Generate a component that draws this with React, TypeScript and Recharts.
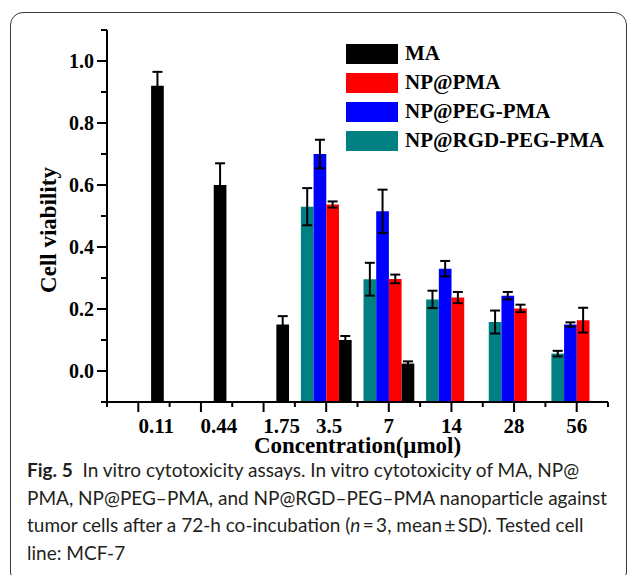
import { BarChart, Bar, XAxis, YAxis, ErrorBar, Legend } from "recharts";

const concentrations = ["0.11", "0.44", "1.75", "3.5", "7", "14", "28", "56"];

const maValues = [0.92, 0.6, 0.15, 0.1, 0.024, null, null, null];
const maErrors = [0.045, 0.07, 0.027, 0.013, 0.007, null, null, null];
const pmaValues = [null, null, null, 0.537, 0.297, 0.237, 0.202, 0.164];
const pmaErrors = [null, null, null, 0.01, 0.014, 0.018, 0.012, 0.04];
const pegValues = [null, null, null, 0.7, 0.515, 0.33, 0.243, 0.15];
const pegErrors = [null, null, null, 0.046, 0.07, 0.025, 0.012, 0.007];
const rgdValues = [null, null, null, 0.53, 0.296, 0.231, 0.158, 0.056];
const rgdErrors = [null, null, null, 0.06, 0.053, 0.028, 0.037, 0.009];

const Y_MIN = -0.1;
const Y_MAX = 1.1;
const yTicks = [-0.1, 0, 0.1, 0.2, 0.3, 0.4, 0.5, 0.6, 0.7, 0.8, 0.9, 1.0, 1.1];

// legend order (top to bottom)
const legendItems = [
  { name: "MA", color: "#000000" },
  { name: "NP@PMA", color: "#ff0000" },
  { name: "NP@PEG-PMA", color: "#0000ff" },
  { name: "NP@RGD-PEG-PMA", color: "#008080" },
];

const data = concentrations.map((c, i) => ({
  conc: c,
  ma: maValues[i],
  maErr: maErrors[i],
  pma: pmaValues[i],
  pmaErr: pmaErrors[i],
  peg: pegValues[i],
  pegErr: pegErrors[i],
  rgd: rgdValues[i],
  rgdErr: rgdErrors[i],
}));

// bars in the original start at the bottom of the axis, not at 0
const fromFloor = (key: string) => (d: any) => (d[key] == null ? null : [Y_MIN, d[key]]);

const W = 630;
const H = 470;
const M = { top: 30, right: 22, left: 7, bottom: 13 };
const Y_AXIS_W = 100;
const X_AXIS_H = 55;
const PLOT_W = W - M.left - M.right - Y_AXIS_W;
const BAND = PLOT_W / concentrations.length;

const SERIF = "'Liberation Serif', 'Times New Roman', serif";

// the first few labels sit to the right of their ticks in the original
const LABEL_SHIFT: Record<string, number> = { "0.11": 18, "0.44": 18, "1.75": 18, "3.5": 3 };

const XTick = (props: any) => {
  const { x, y, payload, index } = props;
  const shift = LABEL_SHIFT[payload.value] ?? 0;
  return (
    <g>
      <line x1={x} y1={y} x2={x} y2={y + 10} stroke="#000" strokeWidth={2} />
      <line x1={x + BAND / 2} y1={y} x2={x + BAND / 2} y2={y + 5} stroke="#000" strokeWidth={2} />
      {index === 0 && (
        <line x1={x - BAND / 2} y1={y} x2={x - BAND / 2} y2={y + 5} stroke="#000" strokeWidth={2} />
      )}
      <text
        x={x + shift}
        y={y + 31}
        textAnchor="middle"
        fontFamily={SERIF}
        fontWeight="bold"
        fontSize={21}
        fill="#000"
      >
        {payload.value}
      </text>
    </g>
  );
};

const YTick = (props: any) => {
  const { x, y, payload } = props;
  const tenth = Math.round(payload.value * 10);
  const major = tenth % 2 === 0;
  return (
    <g>
      <line x1={x - (major ? 10 : 6)} y1={y} x2={x} y2={y} stroke="#000" strokeWidth={2} />
      {major && (
        <text
          x={x - 13}
          y={y}
          dy="0.35em"
          textAnchor="end"
          fontFamily={SERIF}
          fontWeight="bold"
          fontSize={20}
          fill="#000"
        >
          {payload.value.toFixed(1)}
        </text>
      )}
    </g>
  );
};

const renderLegend = () => (
  <div style={{ fontFamily: SERIF, fontWeight: "bold", fontSize: 21, color: "#000" }}>
    {legendItems.map((it) => (
      <div key={it.name} style={{ display: "flex", alignItems: "center", height: 29 }}>
        <span style={{ width: 52, height: 20, background: it.color, display: "inline-block" }} />
        <span style={{ marginLeft: 7, whiteSpace: "nowrap" }}>{it.name}</span>
      </div>
    ))}
  </div>
);

export default function App() {
  return (
    <div style={{ position: "absolute", left: 0, top: 0, width: W, height: 575, overflow: "hidden", background: "#fff" }}>
      <div
        style={{
          position: "absolute",
          left: 10,
          top: 12,
          width: 617,
          height: 573,
          border: "1.5px solid #3a3a3a",
          borderRadius: 13,
          boxSizing: "border-box",
        }}
      />
      <div style={{ position: "absolute", left: 0, top: 0 }}>
        <BarChart width={W} height={H} data={data} margin={M} barGap={0} barSize={12.7}>
          <XAxis
            dataKey="conc"
            height={X_AXIS_H}
            interval={0}
            tickSize={0}
            tickMargin={0}
            tickLine={false}
            tick={<XTick />}
            axisLine={{ stroke: "#000", strokeWidth: 2 }}
            label={{
              value: "Concentration(μmol)",
              position: "insideBottom",
              offset: 4,
              fontFamily: SERIF,
              fontWeight: "bold",
              fontSize: 23,
              fill: "#000",
            }}
          />
          <YAxis
            type="number"
            domain={[Y_MIN, Y_MAX]}
            ticks={yTicks}
            allowDataOverflow
            width={Y_AXIS_W}
            tickSize={0}
            tickMargin={0}
            tickLine={false}
            tick={<YTick />}
            axisLine={{ stroke: "#000", strokeWidth: 2 }}
            label={{
              value: "Cell viability",
              angle: -90,
              position: "center",
              dx: -9,
              dy: 14,
              fontFamily: SERIF,
              fontWeight: "bold",
              fontSize: 23,
              fill: "#000",
            }}
          />
          <Legend
            content={renderLegend}
            layout="vertical"
            verticalAlign="middle"
            align="center"
            wrapperStyle={{ top: 39, left: 346, right: "auto", bottom: "auto", width: 270 }}
          />
          <Bar dataKey={fromFloor("rgd")} name="NP@RGD-PEG-PMA" fill="#008080" isAnimationActive={false}>
            <ErrorBar dataKey="rgdErr" width={5} strokeWidth={2} stroke="#000" />
          </Bar>
          <Bar dataKey={fromFloor("peg")} name="NP@PEG-PMA" fill="#0000ff" isAnimationActive={false}>
            <ErrorBar dataKey="pegErr" width={5} strokeWidth={2} stroke="#000" />
          </Bar>
          <Bar dataKey={fromFloor("pma")} name="NP@PMA" fill="#ff0000" isAnimationActive={false}>
            <ErrorBar dataKey="pmaErr" width={5} strokeWidth={2} stroke="#000" />
          </Bar>
          <Bar dataKey={fromFloor("ma")} name="MA" fill="#000000" isAnimationActive={false}>
            <ErrorBar dataKey="maErr" width={5} strokeWidth={2} stroke="#000" />
          </Bar>
        </BarChart>
      </div>
      <div
        style={{
          position: "absolute",
          left: 27,
          top: 456,
          fontFamily: "Lato, 'Open Sans', sans-serif",
          fontSize: 19,
          lineHeight: "27.5px",
          color: "#231f20",
          whiteSpace: "nowrap",
        }}
      >
        <b>Fig. 5</b>&nbsp; In vitro cytotoxicity assays. In vitro cytotoxicity of MA, NP@
        <br />
        PMA, NP@PEG–PMA, and NP@RGD–PEG–PMA nanoparticle against
        <br />
        tumor cells after a 72-h co-incubation (<i>n</i>&thinsp;=&thinsp;3, mean&thinsp;±&thinsp;SD). Tested cell
        <br />
        line: MCF-7
      </div>
    </div>
  );
}
